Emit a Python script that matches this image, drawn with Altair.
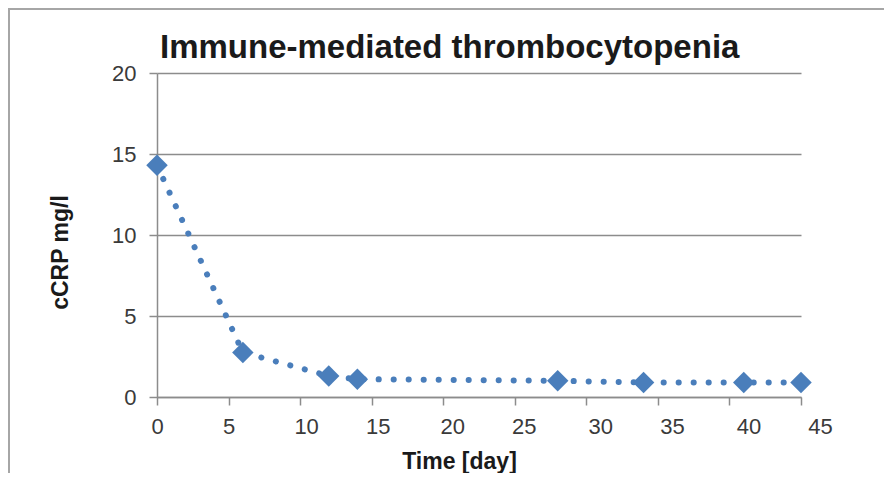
import altair as alt
import pandas as pd

days = [0, 6, 12, 14, 28, 34, 41, 45]
ccrp = [14.3, 2.75, 1.3, 1.1, 1.0, 0.9, 0.9, 0.9]
x_ticks = [0, 5, 10, 15, 20, 25, 30, 35, 40, 45]
y_ticks = [0, 5, 10, 15, 20]
title_text = "Immune-mediated thrombocytopenia"

df = pd.DataFrame({"day": days, "ccrp": ccrp})
blue = "#4a7ebb"
grey = "#8c8c8c"
font = "Liberation Sans"

x_enc = alt.X("day:Q", scale=alt.Scale(domain=[0, 45], nice=False),
              axis=alt.Axis(values=x_ticks, title="Time [day]", grid=False,
                            tickSize=8, labelPadding=11, labelFlush=False,
                            labelOverlap=False,
                            labelOffset={"condition": [
                                {"test": "datum.value >= 40", "value": 19},
                                {"test": "datum.value >= 30", "value": 14},
                                {"test": "datum.value >= 20", "value": 9},
                                {"test": "datum.value >= 10", "value": 6}],
                                "value": 0},
                            titleX=302, titleY=71, titleBaseline="alphabetic",
                            titleAnchor="start", titleAlign="center"))
y_enc = alt.Y("ccrp:Q", scale=alt.Scale(domain=[0, 20], nice=False),
              axis=alt.Axis(values=y_ticks, title="cCRP mg/l", grid=True,
                            tickSize=8, labelPadding=13,
                            titleX=-97, titleY=179, titleAngle=-90,
                            titleAlign="center", titleBaseline="middle"))

line = alt.Chart(df).mark_line(
    interpolate="linear", color=blue, strokeWidth=6,
    strokeDash=[0.1, 14.9], strokeCap="round"
).encode(x=x_enc, y=y_enc)

points = alt.Chart(df).mark_point(
    shape="diamond", filled=True, size=460, color=blue, opacity=1
).encode(x="day:Q", y="ccrp:Q")

one = alt.Data(values=[{"t": title_text}])

frame = alt.Chart(one).mark_rect(
    fill=None, stroke="#a6a6a6", strokeWidth=2
).encode(x=alt.value(-148), x2=alt.value(900), y=alt.value(-64), y2=alt.value(520))

title = alt.Chart(one).mark_text(
    font=font, fontSize=33, fontWeight="bold", color="#1a1a1a",
    align="left", baseline="alphabetic"
).encode(text="t:N", x=alt.value(3), y=alt.value(-15))

chart = alt.layer(frame, line, points, title).properties(
    width=644, height=324,
    autosize=alt.AutoSizeParams(type="none"),
    padding={"left": 149, "top": 65, "right": 83, "bottom": 76},
).configure_view(stroke=None).configure_axis(
    domainColor=grey, domainWidth=1.5, tickColor=grey, tickWidth=1.5,
    gridColor=grey, gridWidth=1.3,
    labelFont=font, labelFontSize=22, labelColor="#3a3a3a",
    titleFont=font, titleFontSize=23, titleColor="#1a1a1a", titleFontWeight="bold",
)

chart.save("out.html", embed_options={"renderer": "svg", "actions": False})
